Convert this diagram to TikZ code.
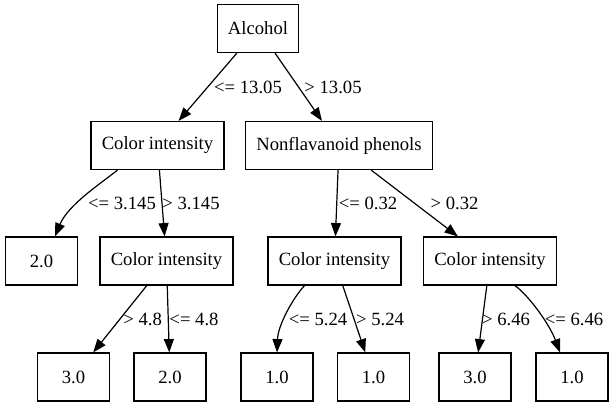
\documentclass[tikz,border=0pt]{standalone}
\usepackage{fontspec}
\setmainfont{Liberation Serif}
\usetikzlibrary{arrows.meta,calc}
\tikzset{
  box/.style={draw,rectangle,minimum width=54pt,minimum height=36pt,
    inner xsep=8pt,line width=0.9pt},
  cond/.style={inner sep=0pt},
  link/.style={line width=0.9pt,-{Triangle[length=10pt,width=7.5pt]}}
}
\begin{document}
\begin{tikzpicture}[x=0.75pt,y=-0.75pt,font=\fontsize{14pt}{16pt}\selectfont]
  \useasboundingbox (0,0) rectangle (612,407);
  \node[box] (alc) at (258,28.5) {Alcohol};
  \node[box] (ci1) at (157.5,145.5) {Color intensity};
  \node[box] (phen) at (339,145.5) {Nonflavanoid phenols};
  \node[box] (leaf0) at (41.5,261) {2.0};
  \node[box] (ci2) at (166.5,261) {Color intensity};
  \node[box] (ci3) at (334.5,261) {Color intensity};
  \node[box] (ci4) at (490,261) {Color intensity};
  \foreach \n/\x/\v in {1/73.5/3.0, 2/170/2.0, 3/277/1.0,
    4/373.5/1.0, 5/475/3.0, 6/572/1.0}
    \node[box] (leaf\n) at (\x,377) {\v};
  % split labels
  \foreach \n/\x/\y/\t in {
    1/248/87/{<= 13.05}, 2/333/87/{> 13.05},
    3/122/203/{<= 3.145}, 4/191/203/{> 3.145},
    5/368/203/{<= 0.32}, 6/454.5/203/{> 0.32},
    7/142.6/319/{> 4.8}, 8/194/319/{<= 4.8},
    9/318/319/{<= 5.24}, 10/380/319/{> 5.24},
    11/506/319/{> 6.46}, 12/574/319/{<= 6.46}}
    \node[cond] (cond\n) at (\x,\y) {\t};
  % straight edges
  \foreach \a/\b in {alc/ci1, alc/phen, ci1/ci2, phen/ci3, phen/ci4,
    ci2/leaf1, ci2/leaf2, ci3/leaf4, ci4/leaf5}
    \draw[link] (\a) -- (\b);
  % bent edges
  \draw[link] ($(ci1.south)+(-40,0)$) .. controls (100,184) and (68,205)
    .. ($(leaf0.north)+(13.5,0)$);
  \draw[link] ($(ci3.south)+(-30,0)$) .. controls (293,298) and (278,325)
    .. ($(leaf3.north)+(0,0)$);
  \draw[link] ($(ci4.south)+(25,0)$) .. controls (528,295) and (549,323)
    .. ($(leaf6.north)+(-12,0)$);
\end{tikzpicture}
\end{document}
